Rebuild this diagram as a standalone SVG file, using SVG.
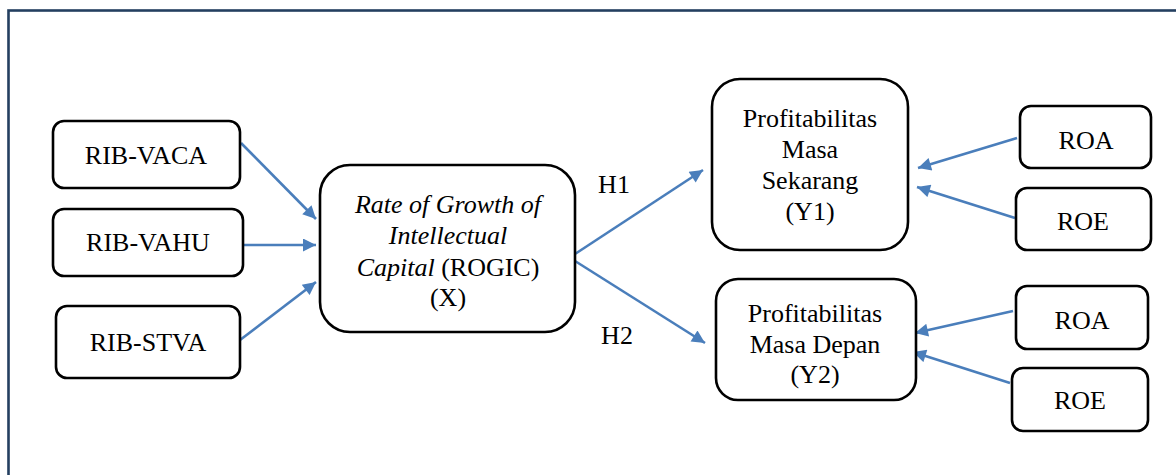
<svg xmlns="http://www.w3.org/2000/svg" width="1176" height="475" viewBox="0 0 1176 475">
<defs>
<marker id="ah" viewBox="0 0 10 10" refX="10" refY="5" markerWidth="6" markerHeight="5" markerUnits="strokeWidth" orient="auto">
<path d="M0,0 L10,5 L0,10 Z" fill="#4a7ebb"/>
</marker>
<style>
.box{fill:#fff;stroke:#000;stroke-width:2.6}
.t{font-family:"Liberation Serif","Times New Roman",serif;font-size:26px;fill:#000;text-anchor:middle}
.i{font-style:italic}
.c{fill:none;stroke:#4a7ebb;stroke-width:2.6;marker-end:url(#ah)}
</style>
</defs>
<rect width="1176" height="475" fill="#fff"/>
<rect x="8.5" y="10.5" width="1180" height="480" fill="none" stroke="#243f60" stroke-width="2.6"/>
<g id="connectors">
<line class="c" x1="241" y1="143" x2="316" y2="219"/>
<line class="c" x1="243" y1="245" x2="316" y2="245"/>
<line class="c" x1="240" y1="340" x2="316" y2="282"/>
<line class="c" x1="575" y1="254" x2="703" y2="170"/>
<line class="c" x1="575" y1="261" x2="705" y2="343"/>
<line class="c" x1="1017" y1="138" x2="918" y2="168"/>
<line class="c" x1="1015" y1="218" x2="917" y2="187"/>
<line class="c" x1="1013" y1="311" x2="915" y2="333"/>
<line class="c" x1="1010" y1="383" x2="913" y2="352"/>
</g>
<g id="vaca"><rect class="box" x="53" y="121" width="187" height="67" rx="11"/><text class="t" x="146" y="164">RIB-VACA</text></g>
<g id="vahu"><rect class="box" x="53" y="209" width="190" height="67" rx="11"/><text class="t" x="148" y="251">RIB-VAHU</text></g>
<g id="stva"><rect class="box" x="56" y="306" width="184" height="72" rx="11"/><text class="t" x="148" y="351">RIB-STVA</text></g>
<g id="rogic"><rect class="box" x="320" y="165" width="255" height="167" rx="30"/>
<text class="t i" x="448" y="213">Rate of Growth of</text>
<text class="t i" x="448" y="244">Intellectual</text>
<text class="t" x="448" y="276"><tspan class="i">Capital</tspan> (ROGIC)</text>
<text class="t" x="448" y="306">(X)</text></g>
<g id="y1"><rect class="box" x="712" y="79" width="196" height="171" rx="28"/>
<text class="t" x="810" y="127">Profitabilitas</text>
<text class="t" x="810" y="158">Masa</text>
<text class="t" x="810" y="189">Sekarang</text>
<text class="t" x="810" y="220">(Y1)</text></g>
<g id="y2"><rect class="box" x="716" y="279" width="200" height="121" rx="22"/>
<text class="t" x="815" y="322">Profitabilitas</text>
<text class="t" x="815" y="353">Masa Depan</text>
<text class="t" x="815" y="383">(Y2)</text></g>
<g id="roa1"><rect class="box" x="1020" y="106" width="131" height="62" rx="11"/><text class="t" x="1086" y="149">ROA</text></g>
<g id="roe1"><rect class="box" x="1016" y="188" width="135" height="62" rx="11"/><text class="t" x="1083" y="230">ROE</text></g>
<g id="roa2"><rect class="box" x="1016" y="286" width="132" height="63" rx="11"/><text class="t" x="1082" y="329">ROA</text></g>
<g id="roe2"><rect class="box" x="1012" y="368" width="136" height="63" rx="11"/><text class="t" x="1080" y="409">ROE</text></g>
<g id="labels"><text class="t" x="614" y="193">H1</text><text class="t" x="617" y="344">H2</text></g>
</svg>
